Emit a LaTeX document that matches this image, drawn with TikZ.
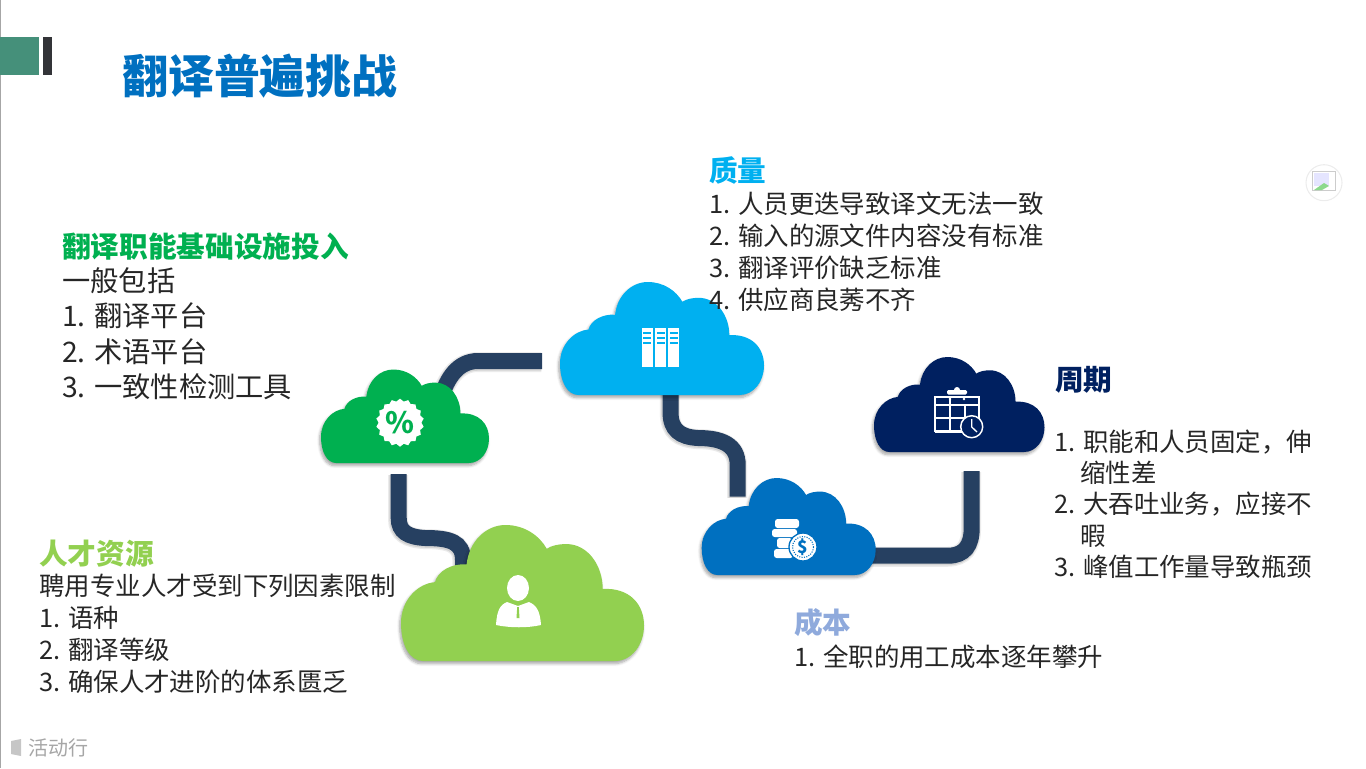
\documentclass[tikz,border=0pt]{standalone}
\usepackage{fontspec}
\setmainfont{Noto Sans CJK SC}
\usetikzlibrary{backgrounds,shapes.geometric,shadows.blur}
\definecolor{pipeblue}{HTML}{264061}
\definecolor{leafgreen}{HTML}{00B050}
\definecolor{skyblue}{HTML}{00B0F0}
\definecolor{midblue}{HTML}{0070C0}
\definecolor{navyblue}{HTML}{002060}
\definecolor{limegreen}{HTML}{92D050}
\definecolor{paleblue}{HTML}{8FAADC}
\definecolor{inktext}{HTML}{262626}
\definecolor{markteal}{HTML}{45907A}
\definecolor{markdark}{HTML}{333438}
\tikzset{
  pipe/.style={draw=pipeblue,line width=12pt,
    preaction={draw=black,draw opacity=.08,line width=15pt,transform canvas={xshift=-.5pt,yshift=-.8pt}},
    preaction={draw=black,draw opacity=.10,line width=13pt,transform canvas={xshift=-.5pt,yshift=-.8pt}}},
  bigtext/.style={anchor=north west,inner sep=0pt,align=left,text=inktext,font=\fontsize{21.2}{26.5}\selectfont},
  smalltext/.style={anchor=north west,inner sep=0pt,align=left,text=inktext,font=\fontsize{19.1}{24}\selectfont},
  tighttext/.style={anchor=north west,inner sep=0pt,align=left,text=inktext,font=\fontsize{19.1}{23.3}\selectfont},
  headtext/.style={anchor=west,inner sep=0pt,font=\fontsize{21.5}{26}\selectfont\bfseries},
  iconwhite/.style={fill=white,draw=none},
  calendarline/.style={draw=white,line width=1.1pt}
}
% cloud{name}{left}{top}{right}{bottom}{colour}
\newcommand{\cloud}[6]{
  \pgfmathsetmacro{\cloudw}{#4-#2}
  \pgfmathsetmacro{\cloudh}{#5-#3}
  \begin{scope}[shift={(#2,#3)},xscale=\cloudw,yscale=\cloudh]
    \fill[#6,blur shadow={shadow xshift=-1pt,shadow yshift=-2pt,shadow blur steps=6,shadow opacity=35,shadow blur radius=2pt}]
      (.09,1) .. controls (.035,1) and (0,.88) .. (0,.72)
      .. controls (0,.55) and (.07,.43) .. (.14,.42)
      .. controls (.15,.34) and (.21,.28) .. (.27,.29)
      .. controls (.28,.12) and (.35,0) .. (.43,0)
      .. controls (.51,0) and (.57,.08) .. (.60,.175)
      .. controls (.62,.15) and (.65,.14) .. (.68,.14)
      .. controls (.77,.14) and (.83,.3) .. (.83,.47)
      .. controls (.94,.46) and (1,.58) .. (1,.74)
      .. controls (1,.88) and (.95,1) .. (.88,1) -- cycle;
    \coordinate (#1) at (.5,.6);
  \end{scope}
}
\begin{document}
\begin{tikzpicture}[x=.75pt,y=-.75pt]
\useasboundingbox (0,0) rectangle (1366,768);

% left edge and title mark
\fill[gray!70] (0,0) rectangle (1.2,768);
\fill[markteal] (0,37) rectangle (38.5,75);
\fill[markdark] (42.7,37) rectangle (51.7,75);
\node[anchor=west,inner sep=0pt,text=midblue,font=\fontsize{34.4}{40}\selectfont\bfseries] (titleText) at (122,76) {翻译普遍挑战};

% clouds
\cloud{leafCloud}{321}{369.5}{489}{463}{leafgreen}
\cloud{skyCloud}{560}{282}{764}{395}{skyblue}
\cloud{navyCloud}{874}{357}{1044.5}{452}{navyblue}
\cloud{coinCloud}{701.7}{478}{875.7}{575}{midblue}
\cloud{limeCloud}{401}{525}{644}{661}{limegreen}

% free ends of the pipes
\coordinate (leafPipeEnd) at (542,361);
\coordinate (leafPipeFoot) at (398.7,474);
\coordinate (skyPipeFoot) at (737.7,496.7);
\coordinate (navyPipeFoot) at (971.7,471);

\begin{pgfonlayer}{background}
\draw[pipe] (leafCloud) -- (441,398) .. controls (447,378) and (458,361) .. (478,361) -- (leafPipeEnd);
\draw[pipe] (leafPipeFoot) -- (398.7,518) .. controls (398.7,532) and (408,537) .. (425,538)
  .. controls (450,538) and (463,542) .. (463,560) -- (463,575) -- (limeCloud);
\draw[pipe] (skyCloud) -- (670.5,375) -- (670.5,412) .. controls (670.5,430) and (680,437) .. (698,438)
  .. controls (722,438) and (737.7,445) .. (737.7,465) -- (skyPipeFoot);
\draw[pipe] (coinCloud) -- (810,555.7) -- (948,555.7) .. controls (965,555.7) and (971.7,545) .. (971.7,528) -- (navyPipeFoot);
\end{pgfonlayer}

% percent badge
\node[star,star points=18,star point ratio=1.12,fill=white,minimum size=36pt,inner sep=0pt,text=leafgreen,font=\fontsize{22}{22}\selectfont\bfseries] (pctBadge) at (400,422.7) {\%};

% server columns
\foreach \colx in {641.7,655,668.3} {
  \fill[white] (\colx,328) rectangle ++(11,39);
  \foreach \stripe in {332,337,342}
    \fill[skyblue] (\colx+1.5,\stripe) rectangle ++(8,1.8);
}

% person
\fill[iconwhite] (518,588) ellipse [x radius=11,y radius=13];
\fill[iconwhite] (507,602) .. controls (500,605) and (497,610) .. (496,625) .. controls (510,628) and (528,628) .. (541,625)
  .. controls (540,610) and (536,605) .. (529,602) -- (518,606) -- cycle;
\fill[limegreen] (517.2,607) -- (518.8,607) -- (519.5,618) -- (516.5,618) -- cycle;

% coins
\fill[iconwhite,rounded corners=2pt] (775,519) rectangle (799,528);
\fill[iconwhite,rounded corners=2pt] (772,529) rectangle (797,537);
\fill[iconwhite,rounded corners=2pt] (777,538) rectangle (792,548);
\fill[iconwhite,rounded corners=2pt] (774,549) rectangle (793,558);
\node[circle,draw=midblue,fill=white,line width=1pt,minimum size=21pt,inner sep=0pt,text=midblue,font=\fontsize{13}{13}\selectfont\bfseries] (coinBadge) at (803,547) {\$};
\draw[midblue,densely dotted,line width=.8pt] (coinBadge) circle (10.5);

% calendar
\draw[calendarline] (935,397) rectangle (979,431);
\draw[calendarline] (935,405) -- (979,405) (935,418) -- (965,418) (950,397) -- (950,431) (965,405) -- (965,420);
\draw[white,line width=1.6pt] (935,431.5) -- (962,431.5);
\fill[white,rounded corners=1pt] (947,390) rectangle (967,394.5);
\fill[white] (957,390) circle (3);
\fill[white] (950,399) circle (1.4) (964,399) circle (1.4);
\node[circle,draw=white,fill=navyblue,line width=1.1pt,minimum size=16.5pt,inner sep=0pt] (clockFace) at (971.7,426.7) {};
\draw[white,line width=1pt] (971.7,419) -- (971.7,427) -- (977,432);

% texts
\node[headtext,text=leafgreen] (infraHead) at (62,247) {翻译职能基础设施投入};
\node[bigtext] (infraList) at (62,267.5) {一般包括\\1. 翻译平台\\2. 术语平台\\3. 一致性检测工具};
\node[headtext,text=skyblue] (qualityHead) at (709,170) {质量};
\node[smalltext] (qualityList) at (709,192) {1. 人员更迭导致译文无法一致\\2. 输入的源文件内容没有标准\\3. 翻译评价缺乏标准\\4. 供应商良莠不齐};
\node[headtext,text=navyblue] (cycleHead) at (1055,380) {周期};
\node[tighttext] (cycleList) at (1054,430) {1. 职能和人员固定，伸\\\hspace*{19.5pt}缩性差\\2. 大吞吐业务，应接不\\\hspace*{19.5pt}暇\\3. 峰值工作量导致瓶颈};
\node[headtext,text=paleblue] (costHead) at (794,623) {成本};
\node[smalltext] (costList) at (794,645) {1. 全职的用工成本逐年攀升};
\node[headtext,text=limegreen] (talentHead) at (39,554) {人才资源};
\node[smalltext] (talentList) at (39,574) {聘用专业人才受到下列因素限制\\1. 语种\\2. 翻译等级\\3. 确保人才进阶的体系匮乏};

% watermark and broken image mark
\fill[gray!45] (11,741) -- (21,739) -- (21,756) -- (11,754) -- cycle;
\node[anchor=west,inner sep=0pt,text=gray!70,font=\fontsize{15}{18}\selectfont] (markText) at (28,748) {活动行};
\node[circle,draw=gray!15,line width=.8pt,minimum size=27pt,inner sep=0pt] (brokenRing) at (1324,182.7) {};
\draw[gray!40,line width=.6pt] (1312.7,171.7) rectangle (1335,190);
\fill[blue!10] (1314,173) rectangle (1329,186);
\fill[green!50!gray!60] (1314,190) -- (1324,183) -- (1329,186) -- (1322,190) -- cycle;
\end{tikzpicture}
\end{document}
